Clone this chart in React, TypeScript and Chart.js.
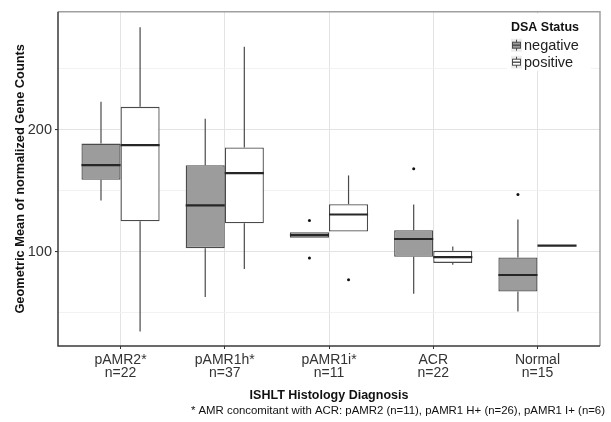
import React, { useEffect, useRef } from 'react';
import { Chart, registerables } from 'chart.js';

Chart.register(...registerables);

// ---- data ----
const categories = ['pAMR2*', 'pAMR1h*', 'pAMR1i*', 'ACR', 'Normal'];
const counts = ['n=22', 'n=37', 'n=11', 'n=22', 'n=15'];
const groupNames = ['negative', 'positive'];

// DSA negative: whisker low, Q1, median, Q3, whisker high, outliers
const negLow = [142, 63, 111.5, 65.6, 51];
const negQ1 = [159, 103, 111.5, 96, 67.5];
const negMed = [171, 138, 113.7, 110.5, 81];
const negQ3 = [188.7, 171, 116.1, 117.7, 95.4];
const negHigh = [223, 209, 116.1, 138.7, 126.4];
const negOutliers = [[], [], [125.6, 94.9], [168], [147]];

// DSA positive
const posLow = [34.7, 86, 116.7, 89.3, 105.1];
const posQ1 = [125, 123.4, 116.7, 90.9, 105.1];
const posMed = [187.4, 164.5, 130.6, 95.7, 105.1];
const posQ3 = [218.8, 185.5, 139, 100.8, 105.1];
const posHigh = [284, 268, 162.6, 104.3, 105.1];
const posOutliers = [[], [], [77.2], [], []];

const yGridValues = [50, 100, 150, 200, 250];
const yLabelValues = [100, 200];
const yMin = 22.8;
const yMax = 296.8;

const xTitle = 'ISHLT Histology Diagnosis';
const yTitle = 'Geometric Mean of normalized Gene Counts';
const legendTitle = 'DSA Status';
const footnote = '* AMR concomitant with ACR: pAMR2 (n=11), pAMR1 H+ (n=26), pAMR1 I+ (n=6)';

const FONT = "'Liberation Sans', Arial, Helvetica, sans-serif";
const NEG_FILL = '#9c9c9c';
const POS_FILL = '#ffffff';
const LINE = '#4a4a4a';

const stats = [
  { low: negLow, q1: negQ1, med: negMed, q3: negQ3, high: negHigh, out: negOutliers },
  { low: posLow, q1: posQ1, med: posMed, q3: posQ3, high: posHigh, out: posOutliers },
];

const boxPlugin = {
  id: 'boxExtras',
  beforeDatasetsDraw(chart: any) {
    const { ctx, scales } = chart;
    const y = scales.y;
    ctx.save();
    ctx.strokeStyle = LINE;
    ctx.lineWidth = 1.2;
    stats.forEach((s, di) => {
      const meta = chart.getDatasetMeta(di);
      meta.data.forEach((el: any, j: number) => {
        const { x } = el.getProps(['x'], true);
        ctx.beginPath();
        ctx.moveTo(x, y.getPixelForValue(s.q3[j]));
        ctx.lineTo(x, y.getPixelForValue(s.high[j]));
        ctx.moveTo(x, y.getPixelForValue(s.q1[j]));
        ctx.lineTo(x, y.getPixelForValue(s.low[j]));
        ctx.stroke();
      });
    });
    ctx.restore();
  },
  afterDatasetsDraw(chart: any) {
    const { ctx, scales } = chart;
    const y = scales.y;
    ctx.save();
    stats.forEach((s, di) => {
      const meta = chart.getDatasetMeta(di);
      meta.data.forEach((el: any, j: number) => {
        const { x, width } = el.getProps(['x', 'width'], true);
        const ym = y.getPixelForValue(s.med[j]);
        ctx.strokeStyle = '#262626';
        ctx.lineWidth = 2.2;
        ctx.beginPath();
        ctx.moveTo(x - width / 2, ym);
        ctx.lineTo(x + width / 2, ym);
        ctx.stroke();
        ctx.fillStyle = '#111';
        s.out[j].forEach((v: number) => {
          ctx.beginPath();
          ctx.arc(x, y.getPixelForValue(v), 1.5, 0, Math.PI * 2);
          ctx.fill();
        });
      });
    });
    ctx.restore();
  },
  afterDraw(chart: any) {
    const { ctx, chartArea: a } = chart;
    ctx.save();
    // panel border
    ctx.lineWidth = 1.5;
    ctx.strokeStyle = '#a0a0a0';
    ctx.beginPath();
    ctx.moveTo(a.left, a.top);
    ctx.lineTo(a.right, a.top);
    ctx.lineTo(a.right, a.bottom);
    ctx.stroke();
    ctx.strokeStyle = '#3a3a3a';
    ctx.beginPath();
    ctx.moveTo(a.left, a.top);
    ctx.lineTo(a.left, a.bottom);
    ctx.lineTo(a.right, a.bottom);
    ctx.stroke();

    // legend
    const lx = a.right - 93;
    const ly = a.top + 2;
    ctx.fillStyle = '#ffffff';
    ctx.fillRect(lx, ly, 84, 57);
    ctx.fillStyle = '#111';
    ctx.font = `bold 12.5px ${FONT}`;
    ctx.textBaseline = 'middle';
    ctx.textAlign = 'left';
    ctx.fillText(legendTitle, lx + 4, ly + 14);
    groupNames.forEach((name, i) => {
      const ky = ly + 25 + i * 17;
      ctx.fillStyle = '#ededed';
      ctx.fillRect(lx + 4, ky, 11, 13);
      ctx.strokeStyle = LINE;
      ctx.lineWidth = 1;
      ctx.beginPath();
      ctx.moveTo(lx + 9.5, ky + 1);
      ctx.lineTo(lx + 9.5, ky + 12);
      ctx.stroke();
      ctx.fillStyle = i === 0 ? NEG_FILL : POS_FILL;
      ctx.fillRect(lx + 5.5, ky + 3.5, 8, 6);
      ctx.strokeRect(lx + 5.5, ky + 3.5, 8, 6);
      ctx.lineWidth = 1.4;
      ctx.beginPath();
      ctx.moveTo(lx + 5.5, ky + 6.5);
      ctx.lineTo(lx + 13.5, ky + 6.5);
      ctx.stroke();
      ctx.fillStyle = '#222';
      ctx.font = `14.5px ${FONT}`;
      ctx.fillText(name, lx + 17, ky + 7);
    });

    // footnote
    ctx.fillStyle = '#111';
    ctx.font = `11.4px ${FONT}`;
    ctx.textAlign = 'right';
    ctx.textBaseline = 'middle';
    ctx.fillText(footnote, 605, 411);
    ctx.restore();
  },
};

export default function App() {
  const ref = useRef<HTMLCanvasElement | null>(null);
  useEffect(() => {
    if (!ref.current) return;
    const chart = new Chart(ref.current, {
      type: 'bar',
      data: {
        datasets: [
          {
            label: groupNames[0],
            data: categories.map((_, i) => ({ x: i + 1, y: [negQ1[i], negQ3[i]] })) as any,
            backgroundColor: NEG_FILL,
            borderColor: LINE,
            borderWidth: 1.3,
            borderSkipped: false,
          },
          {
            label: groupNames[1],
            data: categories.map((_, i) => ({ x: i + 1, y: [posQ1[i], posQ3[i]] })) as any,
            backgroundColor: POS_FILL,
            borderColor: LINE,
            borderWidth: 1.3,
            borderSkipped: false,
          },
        ],
      },
      options: {
        animation: false,
        responsive: false,
        devicePixelRatio: 1,
        categoryPercentage: 0.75,
        barPercentage: 1,
        layout: { padding: { top: 6, right: 11, bottom: 0, left: 0 } },
        plugins: { legend: { display: false }, tooltip: { enabled: false } },
        scales: {
          x: {
            type: 'linear',
            min: 0.4,
            max: 5.6,
            offset: false,
            afterBuildTicks: (s: any) => {
              s.ticks = categories.map((_, i) => ({ value: i + 1 }));
            },
            afterFit: (s: any) => {
              s.height = 76;
            },
            ticks: {
              autoSkip: false,
              maxRotation: 0,
              padding: 5,
              color: '#333',
              font: { family: FONT, size: 14, lineHeight: 0.93 },
              callback: (v: any) => [categories[v - 1], counts[v - 1]],
            },
            grid: {
              offset: false,
              color: '#e3e3e3',
              lineWidth: 1,
              tickLength: 3,
              tickColor: '#333',
            },
            border: { display: false },
            title: {
              display: true,
              text: xTitle,
              color: '#111',
              font: { family: FONT, size: 12.5, weight: 'bold' },
              padding: { top: 0, bottom: 19 },
            },
          } as any,
          y: {
            type: 'linear',
            min: yMin,
            max: yMax,
            afterBuildTicks: (s: any) => {
              s.ticks = yGridValues.map((v) => ({ value: v }));
            },
            afterFit: (s: any) => {
              s.width = 58;
            },
            ticks: {
              padding: 3,
              color: '#333',
              font: { family: FONT, size: 14.5 },
              callback: (v: any) => (yLabelValues.includes(v) ? String(v) : ''),
            },
            grid: {
              color: (c: any) => (yLabelValues.includes(c.tick?.value) ? '#e3e3e3' : '#efefef'),
              lineWidth: (c: any) => (yLabelValues.includes(c.tick?.value) ? 1.1 : 0.8),
              tickLength: 3,
              tickColor: (c: any) => (yLabelValues.includes(c.tick?.value) ? '#333' : 'rgba(0,0,0,0)'),
            },
            border: { display: false },
            title: {
              display: true,
              text: yTitle,
              color: '#111',
              font: { family: FONT, size: 12.8, weight: 'bold' },
              padding: { top: 13, bottom: 0 },
            },
          } as any,
        },
      },
      plugins: [boxPlugin],
    });
    return () => chart.destroy();
  }, []);
  return (
    <div style={{ position: 'fixed', left: 0, top: 0, width: 611, height: 422, background: '#fff' }}>
      <canvas ref={ref} width={611} height={422} />
    </div>
  );
}
